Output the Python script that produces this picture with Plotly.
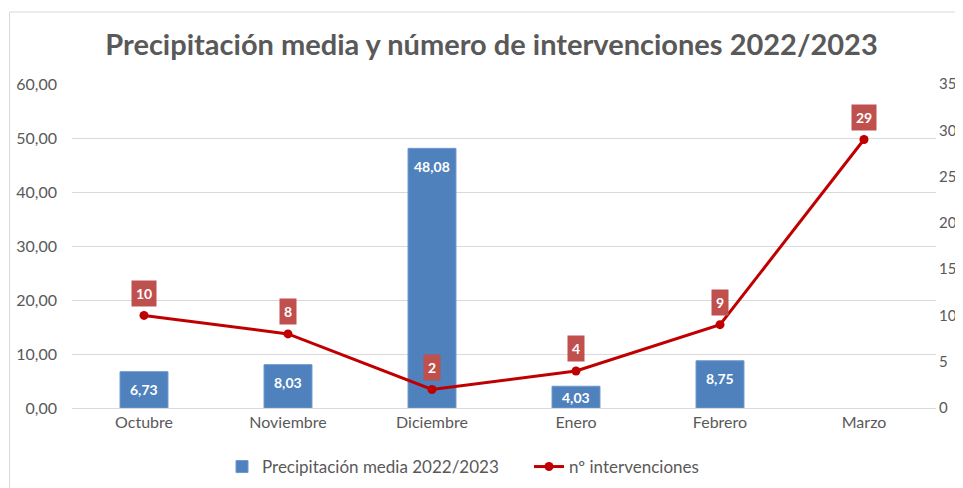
import plotly.graph_objects as go

meses = ["Octubre", "Noviembre", "Diciembre", "Enero", "Febrero", "Marzo"]
precipitacion = [6.73, 8.03, 48.08, 4.03, 8.75, None]
intervenciones = [10, 8, 2, 4, 9, 29]

BLUE = "#4F81BD"
RED = "#C00000"
LABEL_RED = "#C0504D"
GRAY_TXT = "#595959"
GRID = "#D9D9D9"
FONT = "Lato"

# page has an 8px body margin; figure is sized to fill the rest of the window
OFF = 8
W, H = 963 - OFF, 488 - OFF
PL, PR, PT, PB = 72, 936, 84, 408  # plot area in window pixels
PW, PH = PR - PL, PB - PT

fig = go.Figure()
fig.add_trace(go.Bar(
    x=meses, y=precipitacion, name="Precipitación media 2022/2023",
    marker=dict(color=BLUE, line=dict(color="#6F97CC", width=1)),
    width=0.333, yaxis="y",
))
fig.add_trace(go.Scatter(
    x=meses, y=intervenciones, name="nº intervenciones", mode="lines+markers",
    line=dict(color=RED, width=3), marker=dict(color=RED, size=9),
    yaxis="y2",
))

annotations = []
for m, v in zip(meses, precipitacion):
    if v is None:
        continue
    annotations.append(dict(
        x=m, y=v, xref="x", yref="y", yshift=-min(18, v * PH / 60 / 2),
        showarrow=False, text=f"{v:.2f}".replace(".", ","),
        font=dict(family=FONT, size=14, color="white", weight="bold"),
    ))
for m, v in zip(meses, intervenciones):
    annotations.append(dict(
        x=m, y=v, xref="x", yref="y2", yshift=22, showarrow=False,
        text=str(v), bgcolor=LABEL_RED, borderpad=4,
        font=dict(family=FONT, size=14, color="white", weight="bold"),
    ))

fig.update_layout(
    template="none",
    width=W, height=H,
    margin=dict(l=PL - OFF, r=963 - PR, t=PT - OFF, b=488 - PB, autoexpand=False),
    paper_bgcolor="white", plot_bgcolor="white",
    separators=",.",
    font=dict(family=FONT, size=15, color=GRAY_TXT),
    title=dict(
        text="<b>Precipitación media y número de intervenciones 2022/2023</b>",
        x=(491.5 - OFF) / W, xref="container", xanchor="center",
        y=1 - (45 - OFF) / H, yref="container", yanchor="middle",
        font=dict(family=FONT, size=29, color=GRAY_TXT),
    ),
    xaxis=dict(
        showgrid=False, showline=True, linecolor=GRID, linewidth=1,
        ticks="", tickfont=dict(size=16, color=GRAY_TXT), tickangle=0,
        automargin=False, zeroline=False,
    ),
    yaxis=dict(
        range=[0, 60], dtick=10, tickformat=".2f",
        showgrid=True, gridcolor=GRID, gridwidth=1, zeroline=False, showline=False,
        ticks="", ticklabelstandoff=14, tickfont=dict(size=16, color=GRAY_TXT),
        automargin=False,
    ),
    yaxis2=dict(
        range=[0, 35], dtick=5, overlaying="y", side="right",
        showgrid=False, zeroline=False, showline=False, ticks="", ticklabelstandoff=2,
        tickfont=dict(size=15, color=GRAY_TXT), automargin=False,
    ),
    legend=dict(
        orientation="h", x=(222 - PL) / PW, xanchor="left",
        y=(PB - 467) / PH, yanchor="middle",
        font=dict(family=FONT, size=17, color=GRAY_TXT),
        bgcolor="rgba(0,0,0,0)", entrywidth=262, entrywidthmode="pixels",
    ),
    bargap=0.667,
    annotations=annotations,
    shapes=[dict(
        type="rect", xref="paper", yref="paper",
        x0=(OFF + 1.5 - PL) / PW, x1=1.05, y0=-0.3, y1=(PB - 12) / PH,
        line=dict(color=GRID, width=1), fillcolor="rgba(0,0,0,0)", layer="below",
    )],
)

fig.write_html("out.html")
